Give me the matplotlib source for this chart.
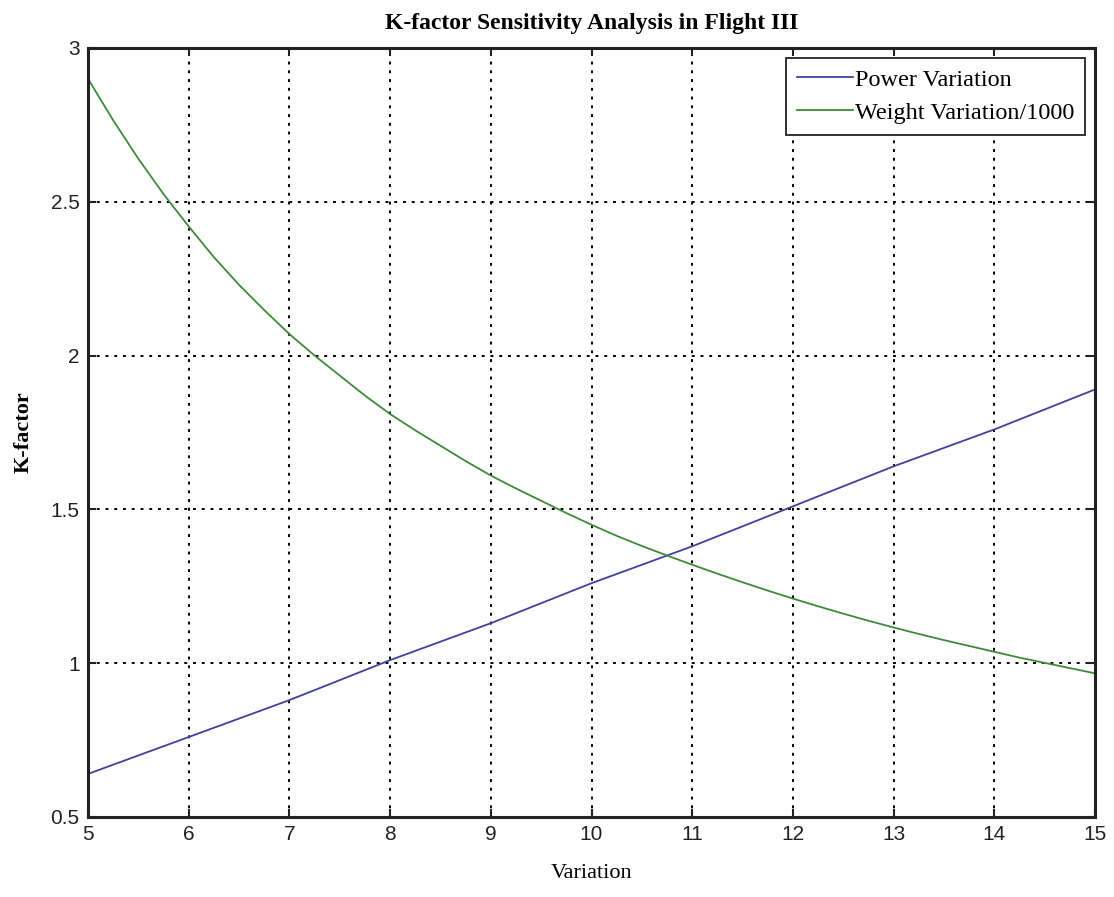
import matplotlib
matplotlib.use("Agg")
import matplotlib.pyplot as plt

power_x = [5, 6, 7, 8, 9, 10, 11, 12, 13, 14, 15]
power_variation = [0.64, 0.76, 0.88, 1.01, 1.13, 1.26, 1.38, 1.51, 1.64, 1.76, 1.89]
weight_x = [5, 5.25, 5.5, 5.75, 6, 6.25, 6.5, 6.75, 7, 7.25, 7.5, 7.75, 8, 8.25, 8.5, 8.75,
            9, 9.25, 9.5, 9.75, 10, 10.25, 10.5, 10.75, 11, 11.25, 11.5, 11.75, 12, 12.25,
            12.5, 12.75, 13, 13.25, 13.5, 13.75, 14, 14.25, 14.5, 14.75, 15]
weight_variation = [2.90, 2.765, 2.64, 2.525, 2.42, 2.32, 2.23, 2.148, 2.07, 2.00, 1.935, 1.87,
                    1.81, 1.757, 1.707, 1.657, 1.61, 1.568, 1.528, 1.488, 1.45, 1.414, 1.381, 1.35,
                    1.32, 1.291, 1.263, 1.236, 1.21, 1.185, 1.161, 1.138, 1.116, 1.095, 1.075, 1.056,
                    1.037, 1.018, 1.001, 0.984, 0.967]
x_ticks = [5, 6, 7, 8, 9, 10, 11, 12, 13, 14, 15]
y_ticks = [0.5, 1, 1.5, 2, 2.5, 3]
y_tick_labels = ['0.5', '1', '1.5', '2', '2.5', '3']

fig = plt.figure(figsize=(11.14, 8.97), dpi=100)
ax = fig.add_axes([0.079, 0.0892, 0.904, 0.8573])

ax.plot(power_x, power_variation, color='#42409c', lw=1.3, label='Power Variation')
ax.plot(weight_x, weight_variation, color='#3f8a3a', lw=1.3, label='Weight Variation/1000')

ax.set_xlim(5, 15)
ax.set_ylim(0.5, 3)
ax.set_xticks(x_ticks)
ax.set_yticks(y_ticks)
ax.set_xticklabels([str(t) for t in x_ticks])
ax.set_yticklabels(y_tick_labels)
ax.grid(True, color='black', linestyle=(0, (1.5, 3)), linewidth=1.4)
ax.tick_params(direction='in', top=True, right=True, length=6, width=1.5,
               labelsize=15, pad=6, colors='#222222')
for lab in ax.get_xticklabels() + ax.get_yticklabels():
    lab.set_family('Liberation Sans')
for s in ax.spines.values():
    s.set_linewidth(2.2)
    s.set_color('#222222')

ax.set_title('K-factor Sensitivity Analysis in Flight III', fontfamily='Liberation Serif',
             fontweight='bold', fontsize=17, pad=14)
ax.set_xlabel('Variation', fontfamily='Liberation Serif', fontsize=16, labelpad=14)
ax.set_ylabel('K-factor', fontfamily='Liberation Serif', fontweight='bold', fontsize=16, labelpad=12)

leg = ax.legend(loc='upper right', prop={'family': 'Liberation Serif', 'size': 17.5},
                fancybox=False, framealpha=1, edgecolor='#222222', handlelength=2.3,
                handletextpad=0.1, borderaxespad=0.4, labelspacing=0.45, borderpad=0.45)
leg.get_frame().set_linewidth(1.3)

fig.savefig('out.png', dpi=100)
